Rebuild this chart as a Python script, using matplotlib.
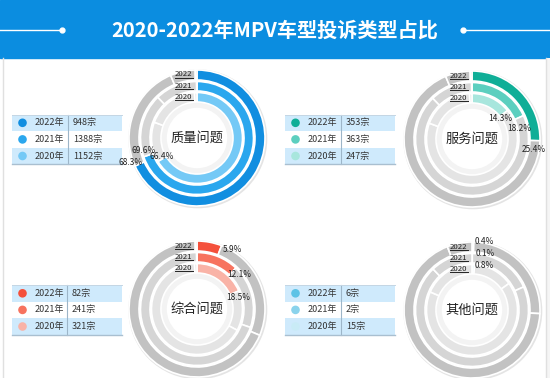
import matplotlib
matplotlib.use('Agg')
import matplotlib.pyplot as plt
from matplotlib.patches import Rectangle, Circle
import numpy as np

plt.rcParams['font.family'] = ['Noto Sans CJK SC', 'DejaVu Sans']

# ---------------- data ----------------
title = '2020-2022年MPV车型投诉类型占比'
years = ['2022', '2021', '2020']
categories = ['质量问题', '服务问题', '综合问题', '其他问题']
counts_quality = [948, 1388, 1152]
counts_service = [353, 363, 247]
counts_general = [82, 241, 321]
counts_other = [6, 2, 15]
pct_quality = [68.3, 69.6, 66.4]
pct_service = [25.4, 18.2, 14.3]
pct_general = [5.9, 12.1, 18.5]
pct_other = [0.4, 0.1, 0.8]
# order in which the remaining categories follow on each ring
rest_order = ['服务问题', '质量问题', '综合问题', '其他问题']
unit = '宗'

counts = dict(zip(categories, [counts_quality, counts_service, counts_general, counts_other]))
pcts = dict(zip(categories, [pct_quality, pct_service, pct_general, pct_other]))

# ---------------- style / layout ----------------
W, H = 550, 378
palette = {
    '质量问题': ['#118ee0', '#2aa7ee', '#74c9f6'],
    '服务问题': ['#0fae97', '#5ccfbf', '#a8e6dd'],
    '综合问题': ['#f4503b', '#f7735f', '#f9b3a7'],
    '其他问题': ['#5ec3e6', '#8ad3ec', '#c9ebf6'],
}
ring_gray = ['#c2c2c2', '#d5d5d5', '#e4e4e4']
radii = [68, 56.5, 45.5]
widths = [10, 9.5, 9.5]
centers = {'质量问题': (197, 138), '服务问题': (472, 139),
           '综合问题': (197, 309), '其他问题': (472, 310)}
tables = {'质量问题': (12, 68, 122, 114.5), '服务问题': (285, 340.5, 395, 114.5),
          '综合问题': (12, 67, 122, 285), '其他问题': (285, 341, 395, 285)}
# label offsets (screen px, dx right, dy down) relative to arc end
label_off = {
    '质量问题': [(-9, -1), (-5, -5), (0, -2)],
    '服务问题': [(-1, 9), (0, 11), (-3, 5.5)],
    '综合问题': [(13, -1), (7, 3), (4, 5)],
    '其他问题': [(10.5, -6), (12.5, -5), (10, -4)],
}

fig = plt.figure(figsize=(W / 100, H / 100), dpi=100)
fig.patch.set_facecolor('white')
bg = fig.add_axes([0, 0, 1, 1])
bg.set_xlim(0, W)
bg.set_ylim(H, 0)
bg.axis('off')

# header
bg.add_patch(Rectangle((0, 0), W, 58, color='#0b8de0', zorder=1))
bg.text(W / 2, 30, title, ha='center', va='center', color='white',
        fontsize=14.5, fontweight='bold', zorder=3)
bg.plot([0, 62], [30, 30], color='white', lw=1, zorder=3)
bg.plot([62], [30], 'o', color='white', ms=3.5, zorder=3)
bg.plot([463, W], [30, 30], color='white', lw=1, zorder=3)
bg.plot([463], [30], 'o', color='white', ms=3.5, zorder=3)
# card borders
bg.plot([2.5, 2.5], [58, H], color='#e0e0e0', lw=1)
bg.plot([545.5, 545.5], [58, H], color='#e0e0e0', lw=1)
bg.add_patch(Rectangle((546, 58), 4, H - 58, color='#f5f5f5', lw=0))

# legend tables
rh = 16.6
for cat in categories:
    x0, xd, x1, y0 = tables[cat]
    for i, yr in enumerate(years):
        ytop = y0 + i * rh
        if i != 1:
            bg.add_patch(Rectangle((x0, ytop), x1 - x0, rh, color='#cfeafc', lw=0, zorder=1))
        yc = ytop + rh / 2
        bg.add_patch(Circle((x0 + 10.5, yc), 4.3, color=palette[cat][i], lw=0, zorder=2))
        bg.text(x0 + 22.5, yc, yr + '年', ha='left', va='center', fontsize=6.5, color='#333333', zorder=3)
        bg.text(xd + 5, yc, f'{counts[cat][i]}{unit}', ha='left', va='center', fontsize=6.5,
                color='#333333', zorder=3)
    bg.plot([xd, xd], [y0, y0 + 3 * rh], color='#9db6c9', lw=0.8, zorder=3)
    bg.plot([x0, x1], [y0, y0], color='#c4d6e4', lw=0.7, zorder=3)
    bg.plot([x0, x1], [y0 + 3 * rh, y0 + 3 * rh], color='#a9bfd0', lw=1.0, zorder=3)

# donuts
R = 80
underline_texts = []
for cat in categories:
    cx, cy = centers[cat]
    ax = fig.add_axes([(cx - R) / W, 1 - (cy + R) / H, 2 * R / W, 2 * R / H])
    # shadow
    ax.pie([1], radius=radii[0] + 1.5, center=(0.8, -0.8), colors=['#e4e4e4'],
           wedgeprops=dict(width=3, linewidth=0))
    for i, yr in enumerate(years):
        others = [o for o in rest_order if o != cat]
        vals = [counts[cat][i]] + [counts[o][i] for o in others]
        cols = [palette[cat][i]] + [ring_gray[i]] * len(others)
        ax.pie(vals, radius=radii[i], colors=cols, startangle=90, counterclock=False,
               wedgeprops=dict(width=widths[i], edgecolor='white', linewidth=1.2))
    ax.pie([1], radius=radii[2] - widths[2] - 0.8, colors=['#f3f3f3'],
           wedgeprops=dict(width=5, linewidth=0))
    ax.set_xlim(-R, R)
    ax.set_ylim(-R, R)
    ax.set_aspect('equal')
    ax.axis('off')
    ax.text(0, 0, cat, ha='center', va='center', fontsize=9.5, color='#222222')
    for i, yr in enumerate(years):
        rmid = radii[i] - widths[i] / 2
        t = ax.text(-4.5, rmid + 0.5, yr, ha='right', va='center', fontsize=5.6, color='#222222')
        underline_texts.append((ax, t))
        vals = [counts[c][i] for c in categories]
        frac = counts[cat][i] / sum(vals)
        th = np.deg2rad(360 * frac)
        dx, dy = label_off[cat][i]
        px = rmid * np.sin(th) + dx
        py = rmid * np.cos(th) - dy
        ax.text(px, py, f'{pcts[cat][i]}%', ha='center', va='center', fontsize=6, color='#222222')

fig.canvas.draw()
renderer = fig.canvas.get_renderer()
for ax, t in underline_texts:
    bb = t.get_window_extent(renderer)
    inv = ax.transData.inverted()
    (xa, ya), (xb, yb) = inv.transform([(bb.x0, bb.y0), (bb.x1, bb.y1)])
    ax.plot([xa, xb], [ya + 0.8, ya + 0.8], color='#222222', lw=0.7)

fig.savefig('out.png', dpi=100, facecolor='white')
